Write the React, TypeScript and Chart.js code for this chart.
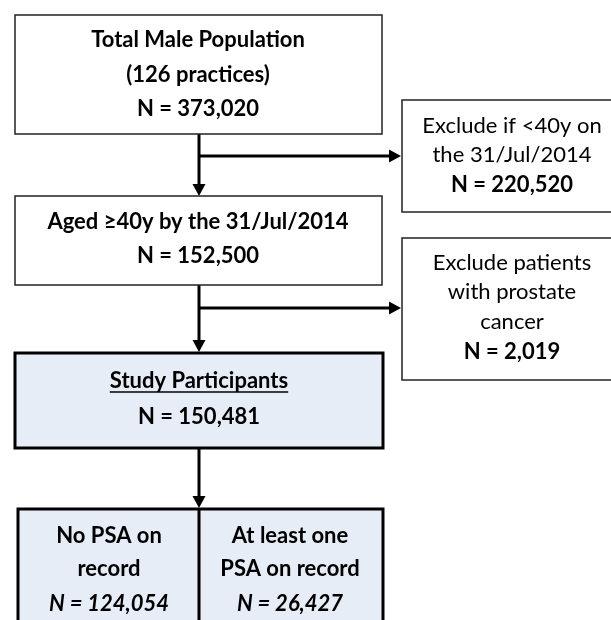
import React, { useEffect, useRef } from "react";
import { Chart, registerables } from "chart.js";

Chart.register(...registerables);

// ---- data ----
const mainStepLabels: string[][] = [
  ["Total Male Population", "(126 practices)"],
  ["Aged ≥40y by the 31/Jul/2014"],
  ["Study Participants"],
];
const mainStepCounts: number[] = [373020, 152500, 150481];
const exclusionLabels: string[][] = [
  ["Exclude if <40y on", "the 31/Jul/2014"],
  ["Exclude patients", "with prostate", "cancer"],
];
const exclusionCounts: number[] = [220520, 2019];
const outcomeLabels: string[][] = [
  ["No PSA on", "record"],
  ["At least one", "PSA on record"],
];
const outcomeCounts: number[] = [124054, 26427];

const fmt = (n: number) => "N = " + n.toLocaleString("en-US");

type Line = { t: string; bold?: boolean; italic?: boolean; underline?: boolean; y: number };
type Box = { x0: number; x1: number; y0: number; y1: number; fill?: string; lw: number; cx: number[]; lines: Line[][] };

const FONT = "Lato, 'Open Sans', sans-serif";
const FILL = "#e6edf7";

function buildBoxes(): Box[] {
  return [
    {
      x0: 15, x1: 382, y0: 15, y1: 134, lw: 1.5, cx: [198],
      lines: [[
        { t: mainStepLabels[0][0], bold: true, y: 40 },
        { t: mainStepLabels[0][1], bold: true, y: 75 },
        { t: fmt(mainStepCounts[0]), bold: true, y: 109 },
      ]],
    },
    {
      x0: 402, x1: 624, y0: 100, y1: 212, lw: 1.5, cx: [512],
      lines: [[
        { t: exclusionLabels[0][0], y: 126 },
        { t: exclusionLabels[0][1], y: 155 },
        { t: fmt(exclusionCounts[0]), bold: true, y: 185 },
      ]],
    },
    {
      x0: 15, x1: 382, y0: 196, y1: 285, lw: 1.5, cx: [198],
      lines: [[
        { t: mainStepLabels[1][0], bold: true, y: 222 },
        { t: fmt(mainStepCounts[1]), bold: true, y: 256 },
      ]],
    },
    {
      x0: 402, x1: 624, y0: 238, y1: 380, lw: 1.5, cx: [512],
      lines: [[
        { t: exclusionLabels[1][0], y: 263 },
        { t: exclusionLabels[1][1], y: 292 },
        { t: exclusionLabels[1][2], y: 322 },
        { t: fmt(exclusionCounts[1]), bold: true, y: 352 },
      ]],
    },
    {
      x0: 15, x1: 383, y0: 353, y1: 448, lw: 3, fill: FILL, cx: [199],
      lines: [[
        { t: mainStepLabels[2][0], bold: true, underline: true, y: 381 },
        { t: fmt(mainStepCounts[2]), bold: true, y: 417 },
      ]],
    },
    {
      x0: 18, x1: 383, y0: 509, y1: 650, lw: 3, fill: FILL, cx: [109, 290],
      lines: [0, 1].map((i) => [
        { t: outcomeLabels[i][0], bold: true, y: 536 },
        { t: outcomeLabels[i][1], bold: true, y: 569 },
        { t: fmt(outcomeCounts[i]), bold: true, italic: true, y: 604 },
      ]),
    },
  ];
}

// connectors: [x0,y0,x1,y1] with arrow at end
const connectors: number[][] = [
  [199, 134, 199, 196],
  [199, 156, 401, 156],
  [199, 285, 199, 352],
  [199, 308, 401, 308],
  [199, 448, 199, 508],
];

const flowPlugin = {
  id: "flow",
  afterDraw(chart: any) {
    const ctx: CanvasRenderingContext2D = chart.ctx;
    const xs = chart.scales.x;
    const ys = chart.scales.y;
    const X = (v: number) => xs.getPixelForValue(v);
    const Y = (v: number) => ys.getPixelForValue(v);
    ctx.save();
    ctx.fillStyle = "#fff";
    ctx.fillRect(0, 0, chart.width, chart.height);

    // connectors
    ctx.strokeStyle = "#000";
    ctx.fillStyle = "#000";
    ctx.lineWidth = 3;
    for (const [a, b, c, d] of connectors) {
      const x0 = X(a), y0 = Y(b), x1 = X(c), y1 = Y(d);
      const horiz = Math.abs(y1 - y0) < 1;
      const head = 12, half = 6.5;
      ctx.beginPath();
      ctx.moveTo(x0, y0);
      if (horiz) ctx.lineTo(x1 - head + 1, y1);
      else ctx.lineTo(x1, y1 - head + 1);
      ctx.stroke();
      ctx.beginPath();
      if (horiz) {
        ctx.moveTo(x1, y1);
        ctx.lineTo(x1 - head, y1 - half);
        ctx.lineTo(x1 - head, y1 + half);
      } else {
        ctx.moveTo(x1, y1);
        ctx.lineTo(x1 - half, y1 - head);
        ctx.lineTo(x1 + half, y1 - head);
      }
      ctx.closePath();
      ctx.fill();
    }

    // boxes
    for (const b of buildBoxes()) {
      const x0 = X(b.x0), x1 = X(b.x1), y0 = Y(b.y0), y1 = Y(b.y1);
      if (b.fill) {
        ctx.fillStyle = b.fill;
        ctx.fillRect(x0, y0, x1 - x0, y1 - y0);
      }
      ctx.strokeStyle = b.lw > 2 ? "#000" : "#222";
      ctx.lineWidth = b.lw;
      ctx.strokeRect(x0, y0, x1 - x0, y1 - y0);
      if (b.cx.length > 1) {
        ctx.beginPath();
        ctx.moveTo(X(199), y0);
        ctx.lineTo(X(199), y1);
        ctx.stroke();
      }
      b.lines.forEach((col, ci) => {
        const cx = X(b.cx[ci]);
        for (const ln of col) {
          const size = 22;
          ctx.font = `${ln.italic ? "italic " : ""}${ln.bold ? "bold " : ""}${size}px ${FONT}`;
          ctx.fillStyle = "#000";
          ctx.textAlign = "center";
          ctx.textBaseline = "middle";
          const ty = Y(ln.y);
          ctx.fillText(ln.t, cx, ty);
          if (ln.underline) {
            const w = ctx.measureText(ln.t).width;
            ctx.lineWidth = 1.5;
            ctx.beginPath();
            ctx.moveTo(cx - w / 2, ty + 11);
            ctx.lineTo(cx + w / 2, ty + 11);
            ctx.stroke();
          }
        }
      });
    }
    ctx.restore();
  },
};

export default function App() {
  const ref = useRef<HTMLCanvasElement>(null);
  useEffect(() => {
    if (!ref.current) return;
    const chart = new Chart(ref.current, {
      type: "scatter",
      data: { datasets: [] },
      options: {
        animation: false,
        responsive: false,
        devicePixelRatio: 1,
        layout: { padding: 0 },
        plugins: { legend: { display: false }, tooltip: { enabled: false } },
        scales: {
          x: { type: "linear", min: 0, max: 611, display: false },
          y: { type: "linear", min: 0, max: 620, reverse: true, display: false },
        },
      },
      plugins: [flowPlugin],
    });
    return () => chart.destroy();
  }, []);
  return (
    <div style={{ position: "fixed", left: 0, top: 0, width: 611, height: 620, background: "#fff" }}>
      <canvas ref={ref} width={611} height={620} style={{ display: "block" }} />
    </div>
  );
}
